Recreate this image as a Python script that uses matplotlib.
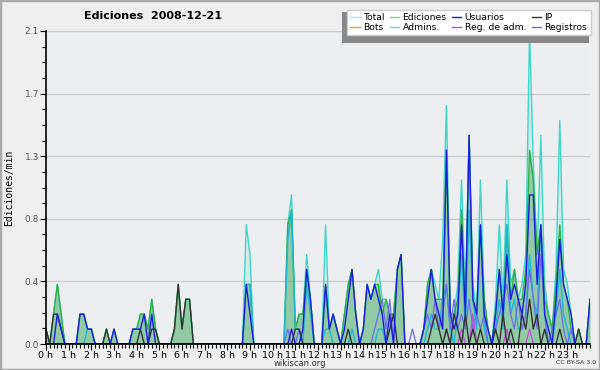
import numpy as np
import matplotlib
matplotlib.use("Agg")
import matplotlib.pyplot as plt
from matplotlib.lines import Line2D
from matplotlib.patches import Rectangle

# edits per 10-minute slot (0h .. 24h, 145 slots); plotted as edits/min
total = [
    1, 0, 2, 4, 2, 0,  0, 0, 0, 2, 2, 1,  1, 0, 0, 0, 1, 0,  1, 0, 0, 0, 0, 1,
    1, 2, 2, 1, 3, 1,  0, 0, 0, 0, 1, 4,  1, 3, 3, 0, 0, 0,  0, 0, 0, 0, 0, 0,
    0, 0, 0, 0, 0, 8,  6, 0, 0, 0, 0, 0,  0, 0, 0, 0, 8, 10, 1, 2, 2, 6, 3, 0,
    0, 0, 8, 1, 2, 1,  0, 2, 4, 5, 2, 0,  1, 4, 3, 4, 5, 3,  3, 2, 2, 5, 6, 0,
    0, 0, 0, 0, 1, 4,  5, 4, 3, 7, 16, 2, 2, 4, 11, 3, 14, 4, 2, 11, 3, 1, 0, 3,
    8, 3, 11, 4, 5, 3, 4, 6, 21, 12, 6, 14, 4, 2, 1, 5, 15, 5, 4, 2, 0, 1, 0, 0,
    3]
ediciones = [
    1, 0, 2, 4, 2, 0,  0, 0, 0, 2, 2, 1,  1, 0, 0, 0, 1, 0,  1, 0, 0, 0, 0, 1,
    1, 2, 2, 1, 3, 1,  0, 0, 0, 0, 1, 4,  1, 3, 3, 0, 0, 0,  0, 0, 0, 0, 0, 0,
    0, 0, 0, 0, 0, 4,  4, 0, 0, 0, 0, 0,  0, 0, 0, 0, 8, 9,  1, 2, 2, 5, 3, 0,
    0, 0, 4, 1, 2, 1,  0, 2, 4, 5, 2, 0,  1, 4, 3, 4, 4, 2,  3, 2, 2, 5, 6, 0,
    0, 0, 0, 0, 1, 4,  5, 3, 3, 3, 13, 2, 2, 3, 9, 2, 14, 3,  2, 8, 3, 1, 0, 2,
    5, 2, 8, 3, 5, 3,  3, 5, 13, 11, 6, 8, 3, 2, 1, 4, 8, 4,  3, 1, 0, 1, 0, 0,
    3]
usuarios = [
    0, 0, 0, 2, 1, 0,  0, 0, 0, 2, 2, 1,  1, 0, 0, 0, 0, 0,  1, 0, 0, 0, 0, 1,
    1, 1, 2, 0, 2, 0,  0, 0, 0, 0, 0, 0,  0, 0, 0, 0, 0, 0,  0, 0, 0, 0, 0, 0,
    0, 0, 0, 0, 0, 4,  2, 0, 0, 0, 0, 0,  0, 0, 0, 0, 0, 1,  0, 0, 1, 5, 3, 0,
    0, 0, 4, 1, 2, 1,  0, 1, 3, 5, 2, 0,  1, 4, 3, 4, 3, 2,  0, 2, 0, 5, 6, 0,
    0, 0, 0, 0, 1, 3,  5, 3, 2, 1, 13, 2, 1, 2, 8, 2, 14, 3,  2, 8, 2, 1, 0, 2,
    5, 2, 6, 3, 4, 3,  2, 4, 10, 10, 4, 8, 2, 1, 0, 3, 7, 4,  3, 2, 0, 0, 0, 0,
    3]
ip = [
    1, 0, 2, 2, 1, 0,  0, 0, 0, 0, 0, 0,  0, 0, 0, 0, 1, 0,  0, 0, 0, 0, 0, 0,
    0, 1, 0, 0, 1, 1,  0, 0, 0, 0, 1, 4,  1, 3, 3, 0, 0, 0,  0, 0, 0, 0, 0, 0,
    0, 0, 0, 0, 0, 0,  0, 0, 0, 0, 0, 0,  0, 0, 0, 0, 0, 0,  1, 1, 0, 0, 0, 0,
    0, 0, 0, 0, 0, 0,  0, 0, 1, 0, 0, 0,  0, 0, 0, 0, 0, 0,  0, 1, 2, 0, 0, 0,
    0, 0, 0, 0, 0, 0,  1, 2, 1, 0, 1, 0,  2, 1, 0, 2, 0, 1,  0, 1, 0, 0, 0, 1,
    0, 2, 0, 1, 0, 0,  2, 1, 3, 1, 2, 0,  1, 0, 0, 0, 1, 0,  0, 0, 0, 1, 0, 0,
    0]
bots = [0] * 145
admins = [
    0, 0, 0, 0, 0, 0,  0, 0, 0, 0, 0, 1,  1, 0, 0, 0, 0, 0,  0, 0, 0, 0, 0, 0,
    0, 0, 0, 0, 0, 0,  0, 0, 0, 0, 0, 0,  0, 0, 0, 0, 0, 0,  0, 0, 0, 0, 0, 0,
    0, 0, 0, 0, 0, 4,  4, 0, 0, 0, 0, 0,  0, 0, 0, 0, 7, 9,  1, 1, 0, 4, 2, 0,
    0, 0, 1, 1, 0, 0,  0, 0, 0, 1, 0, 0,  0, 0, 0, 0, 1, 1,  0, 0, 0, 0, 0, 0,
    0, 0, 0, 0, 0, 1,  2, 1, 1, 3, 4, 1,  0, 2, 6, 1, 9, 3,  1, 8, 1, 0, 0, 1,
    3, 1, 8, 2, 3, 1,  1, 2, 6, 3, 2, 8,  2, 0, 0, 2, 5, 2,  1, 0, 0, 0, 0, 0,
    0]
reg_adm = [
    0] * 106 + [1, 0, 0, 0, 1, 0, 0, 2, 0, 0, 0, 0, 0, 0, 0, 0, 1, 0, 0, 0, 0, 0, 1] + [0] * 16
registros = [
    0, 0, 0, 0, 0, 0,  0, 0, 0, 0, 0, 0,  0, 0, 0, 0, 0, 0,  0, 0, 0, 0, 0, 0,
    0, 0, 0, 0, 0, 0,  0, 0, 0, 0, 0, 0,  0, 0, 0, 0, 0, 0,  0, 0, 0, 0, 0, 0,
    0, 0, 0, 0, 0, 0,  0, 0, 0, 0, 0, 0,  0, 0, 0, 0, 1, 0,  0, 1, 0, 0, 0, 0,
    0, 0, 0, 0, 0, 0,  0, 0, 0, 0, 0, 0,  0, 0, 0, 1, 2, 3,  1, 3, 0, 0, 0, 0,
    0, 1, 0, 0, 1, 2,  1, 3, 1, 2, 4, 1,  3, 1, 2, 1, 3, 1,  2, 1, 2, 0, 0, 1,
    2, 3, 4, 2, 1, 3,  1, 2, 5, 3, 1, 6,  2, 0, 1, 2, 3, 1,  0, 1, 0, 0, 0, 0,
    0]

hour_labels = ["%d h" % h for h in range(24)]
ytick_vals = [0.0, 0.42, 0.84, 1.26, 1.68, 2.1]

hours = np.arange(145) / 6.0
def per_min(a):
    return np.array(a) / 10.0

c_total = "#3ed6c8"
c_edit = "#2fae45"
c_users = "#1c1ce0"
c_ip = "#333333"
c_bots = "#f0a030"
c_admins = "#1fb6d8"
c_regadm = "#c848e0"
c_reg = "#6c6cf0"

fig = plt.figure(figsize=(6, 3.7), dpi=100, facecolor="#efefef")
ax = fig.add_axes([46 / 600, 26 / 370, 544 / 600, 313 / 370])
ax.set_facecolor("#eceef0")

ax.fill_between(hours, per_min(total), color="#40e0d0", alpha=0.14, lw=0)
ax.fill_between(hours, per_min(ediciones), color="#4aa456", alpha=0.47, lw=0)
ax.plot(hours, per_min(total), color=c_total, lw=1.0)
ax.plot(hours, per_min(ediciones), color=c_edit, lw=1.0)
ax.plot(hours, per_min(admins), color=c_admins, lw=1.0)
ax.plot(hours, per_min(registros), color=c_reg, lw=0.9)
ax.plot(hours, per_min(reg_adm), color=c_regadm, lw=0.9)
ax.plot(hours, per_min(ip), color=c_ip, lw=1.0)
ax.plot(hours, per_min(usuarios), color=c_users, lw=1.0)

ax.set_xlim(0, 24)
ax.set_ylim(0, 2.1)
ax.set_xticks(range(24))
ax.set_xticklabels(hour_labels, fontsize=6.8)
ax.set_xticks(np.arange(0, 24.01, 1 / 6), minor=True)
ax.set_yticks(ytick_vals)
ax.set_yticklabels(["%.1f" % v for v in ytick_vals], fontsize=6.5, color="#555555")
ax.set_yticks(np.arange(0, 2.11, 0.105), minor=True)
ax.tick_params(axis="both", which="major", length=4, width=0.8, pad=1)
ax.tick_params(axis="both", which="minor", length=3, width=0.8)
ax.grid(axis="y", which="major", color="#cccccc", lw=1)
ax.set_axisbelow(True)
for s in ["top", "right"]:
    ax.spines[s].set_visible(False)
ax.spines["left"].set_linewidth(1.2)
ax.spines["bottom"].set_linewidth(1.2)

fig.text(9 / 600, 1 - 188 / 370, "Ediciones/min", family="DejaVu Sans Mono", fontsize=7,
         rotation=90, ha="center", va="center")
fig.text(153 / 600, 1 - 16 / 370, "Ediciones  2008-12-21", ha="center", va="center",
         fontsize=8, fontweight="bold")
fig.text(0.5, 1 - 363 / 370, "wikiscan.org", ha="center", va="center", fontsize=6,
         color="#333333")
fig.text(596 / 600, 1 - 363 / 370, "CC BY-SA 3.0", ha="right", va="center", fontsize=4.5,
         color="#333333")

# legend with drop shadow
fig.patches.append(Rectangle((342 / 600, 1 - 43 / 370), 247 / 600, 31 / 370,
                             transform=fig.transFigure, facecolor="#888888",
                             edgecolor="none", zorder=5))
names = ["Total", "Bots", "Ediciones", "Admins.", "Usuarios", "Reg. de adm.", "IP", "Registros"]
cols = ["#a8e8e2", c_bots, "#88d090", "#70d0e8", c_users, c_regadm, c_ip, c_reg]
handles = [Line2D([], [], color=c, lw=1) for c in cols]
leg = fig.legend(handles, names, ncol=4, loc="upper left",
                 bbox_to_anchor=(347 / 600, 1 - 10 / 370), fontsize=6.7,
                 frameon=True, fancybox=False, handlelength=1.0, handletextpad=0.35,
                 columnspacing=0.6, labelspacing=0.1, borderpad=0.35, borderaxespad=0)
leg.get_frame().set_edgecolor("#cccccc")
leg.get_frame().set_facecolor("white")
leg.get_frame().set_alpha(1)
leg.set_zorder(6)

fig.patches.append(Rectangle((0, 0), 1, 1, transform=fig.transFigure, fill=False,
                             edgecolor="#aaaaaa", lw=2.5, zorder=10))

fig.savefig("out.png", dpi=100, facecolor=fig.get_facecolor())
